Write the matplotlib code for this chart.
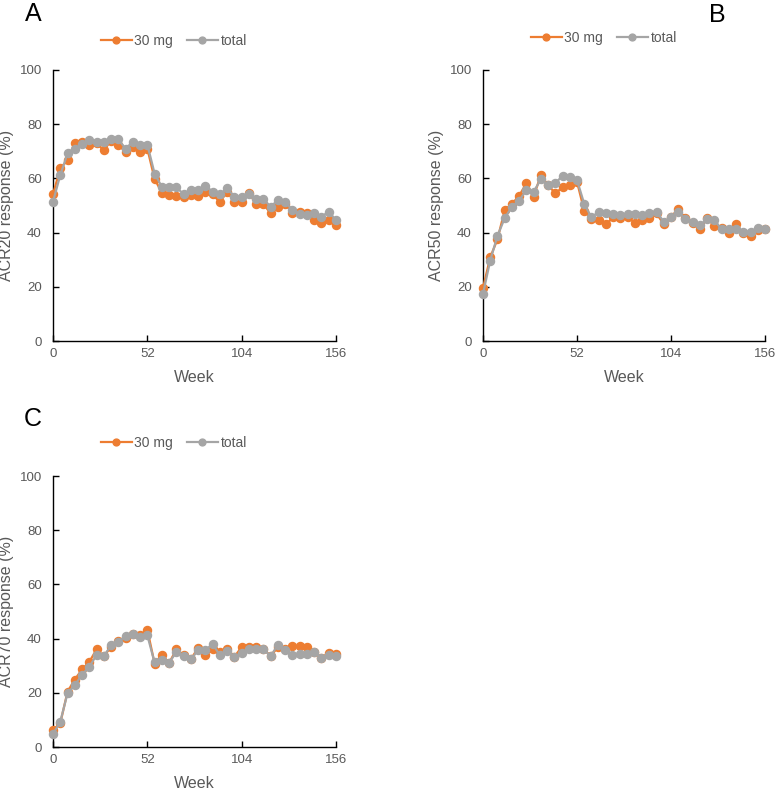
import matplotlib
matplotlib.use("Agg")
import matplotlib.pyplot as plt

plt.rcParams["font.family"] = ["Liberation Sans", "DejaVu Sans"]

# ─── Data ───────────────────────────────────────────────────
weeks = list(range(0, 157, 4))

acr20_30mg = [54.1, 63.7, 66.7, 73.1, 73.5, 72.5, 72.9, 70.4, 73.9, 72.3,
              69.8, 71.7, 69.8, 71.0, 59.8, 54.7, 53.9, 53.6, 53.3, 53.9,
              53.5, 55.1, 54.1, 51.2, 55.1, 51.4, 51.4, 54.7, 50.5, 50.5,
              47.1, 49.6, 50.5, 47.3, 47.7, 47.3, 44.6, 43.7, 44.6, 42.8]
acr20_total = [51.4, 61.2, 69.2, 71.0, 72.6, 74.1, 73.3, 73.5, 74.4, 74.4,
               71.0, 73.5, 72.5, 72.5, 61.8, 56.9, 56.7, 56.7, 54.2, 55.6,
               55.7, 57.3, 55.1, 54.2, 56.3, 53.3, 53.3, 54.2, 52.3, 52.3,
               49.6, 52.0, 51.4, 48.3, 46.8, 46.5, 47.3, 45.9, 47.7, 44.6]

acr50_30mg = [19.5, 30.9, 37.5, 48.3, 50.6, 53.6, 58.2, 53.3, 61.2, 57.5,
              54.5, 56.7, 57.5, 58.8, 48.0, 44.9, 44.7, 43.1, 45.6, 45.4,
              45.6, 43.7, 44.6, 45.3, 47.1, 43.0, 45.9, 48.6, 45.3, 43.4,
              41.2, 45.3, 42.4, 41.6, 39.9, 43.0, 39.7, 38.7, 40.9, 41.2]
acr50_total = [17.4, 29.7, 38.8, 45.3, 49.6, 51.8, 55.7, 55.1, 59.6, 57.5,
               58.2, 61.0, 60.6, 59.4, 50.6, 45.6, 47.7, 47.1, 46.9, 46.5,
               46.9, 46.8, 46.5, 47.1, 47.7, 44.0, 45.6, 47.7, 44.9, 44.0,
               42.8, 44.9, 44.6, 41.2, 41.2, 41.2, 40.3, 40.3, 41.6, 41.2]

acr70_30mg = [6.3, 8.7, 20.4, 24.9, 28.6, 31.4, 36.0, 33.5, 36.9, 39.1,
              40.4, 41.6, 41.2, 43.3, 30.8, 34.1, 31.0, 36.0, 33.9, 32.3,
              36.7, 33.9, 36.0, 35.1, 36.3, 33.3, 36.9, 36.9, 36.9, 36.3,
              33.5, 36.9, 36.3, 37.2, 37.2, 36.9, 35.1, 33.0, 34.7, 34.2]
acr70_total = [4.8, 9.3, 19.8, 22.8, 26.7, 29.6, 33.9, 33.5, 37.5, 38.8,
               40.9, 41.6, 40.6, 41.2, 31.2, 32.0, 31.0, 35.1, 33.6, 32.3,
               35.7, 35.9, 37.9, 33.9, 35.3, 33.3, 34.7, 36.3, 36.3, 36.0,
               33.5, 37.8, 35.7, 33.9, 34.5, 34.2, 35.1, 33.0, 33.9, 33.5]

x_ticks = [0, 52, 104, 156]
y_ticks = [0, 20, 40, 60, 80, 100]

ORANGE = "#ED7D31"
GRAY = "#A5A5A5"
TICK_TXT = "#595959"

W, H = 776, 790

fig = plt.figure(figsize=(W / 100, H / 100), dpi=100)


def px_axes(x0, x1, y_top, y_bot):
    return fig.add_axes([x0 / W, 1 - y_bot / H, (x1 - x0) / W, (y_bot - y_top) / H])


def draw_panel(ax, y30, ytot, ylabel, letter, letter_xy, leg_xy):
    ax.plot(weeks, y30, color=ORANGE, lw=1.6, marker="o", ms=5.8,
            mec=ORANGE, mfc=ORANGE, label="30 mg", zorder=3, clip_on=False)
    ax.plot(weeks, ytot, color=GRAY, lw=1.6, marker="o", ms=5.8,
            mec=GRAY, mfc=GRAY, label="total", zorder=4, clip_on=False)
    ax.set_xlim(0, 156)
    ax.set_ylim(0, 100)
    ax.set_xticks(x_ticks)
    ax.set_yticks(y_ticks)
    ax.spines["top"].set_visible(False)
    ax.spines["right"].set_visible(False)
    for s in ("left", "bottom"):
        ax.spines[s].set_linewidth(1.0)
        ax.spines[s].set_color("black")
    ax.tick_params(direction="in", length=4, width=1, labelsize=9.5,
                   labelcolor=TICK_TXT)
    ax.tick_params(axis="y", pad=8)
    ax.tick_params(axis="x", pad=5)
    ax.set_xlabel("Week", fontsize=11.5, color=TICK_TXT, labelpad=7)
    ax.set_ylabel(ylabel, fontsize=11.5, color=TICK_TXT, labelpad=4)
    fig.text(letter_xy[0] / W, 1 - letter_xy[1] / H, letter,
             fontsize=18, ha="center", va="center")
    fig.legend(*ax.get_legend_handles_labels(), loc="center",
               bbox_to_anchor=(leg_xy[0] / W, 1 - leg_xy[1] / H),
               ncol=2, frameon=False, fontsize=10, handlelength=2.2,
               handletextpad=0.2, columnspacing=1.0, labelcolor=TICK_TXT,
               markerscale=0.85)


ax_a = px_axes(53, 336, 70, 341)
draw_panel(ax_a, acr20_30mg, acr20_total, "ACR20 response (%)",
           "A", (33, 14), (174, 41))

ax_b = px_axes(483, 765, 70, 341)
draw_panel(ax_b, acr50_30mg, acr50_total, "ACR50 response (%)",
           "B", (717, 15), (604, 38))

ax_c = px_axes(53, 336, 476, 747)
draw_panel(ax_c, acr70_30mg, acr70_total, "ACR70 response (%)",
           "C", (33, 419), (174, 443))

fig.savefig("out.png", dpi=100)
